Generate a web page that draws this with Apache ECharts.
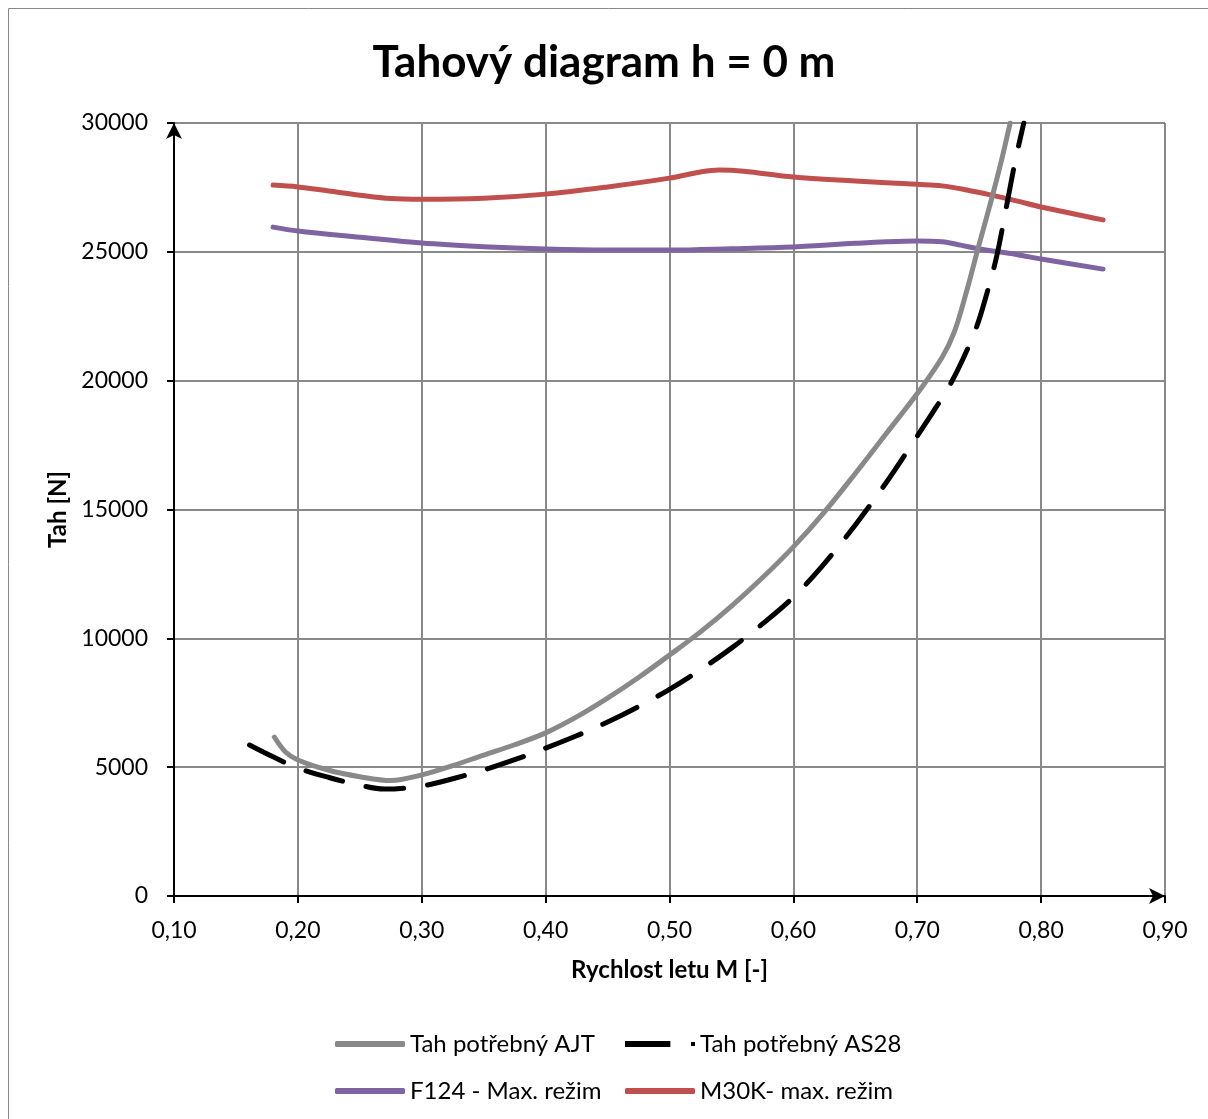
<!DOCTYPE html>
<html>
<head>
<meta charset="utf-8">
<title>Tahový diagram</title>
<script src="https://cdn.jsdelivr.net/npm/echarts@6/dist/echarts.min.js"></script>
<style>
  html, body { margin: 0; padding: 0; background: #fff; }
  #chart { width: 1208px; height: 1119px; }
</style>
</head>
<body>
<div id="chart"></div>
<script>
// Tah potřebný AJT
const ajtM = [0.181, 0.19, 0.20, 0.225, 0.25, 0.275, 0.30, 0.325, 0.35, 0.375, 0.40, 0.425, 0.45, 0.475, 0.50, 0.525, 0.55, 0.575, 0.60, 0.625, 0.65, 0.675, 0.70, 0.72, 0.73, 0.74, 0.75, 0.76, 0.768, 0.775]
const ajtT = [6170, 5590, 5280, 4880, 4630, 4480, 4700, 5060, 5470, 5870, 6330, 6950, 7680, 8480, 9350, 10250, 11250, 12350, 13550, 14900, 16400, 17950, 19500, 20900, 21900, 23500, 25300, 27050, 28550, 30000]

// Tah potřebný AS28
const as28M = [0.161, 0.18, 0.20, 0.225, 0.25, 0.27, 0.30, 0.325, 0.35, 0.375, 0.40, 0.425, 0.45, 0.475, 0.50, 0.525, 0.55, 0.575, 0.60, 0.625, 0.65, 0.675, 0.70, 0.715, 0.726, 0.737, 0.748, 0.756, 0.764, 0.772, 0.779, 0.786]
const as28T = [5860, 5400, 4970, 4600, 4300, 4150, 4270, 4550, 4890, 5290, 5740, 6220, 6750, 7350, 8020, 8780, 9620, 10560, 11600, 12900, 14400, 16050, 17850, 18950, 19800, 20850, 22100, 23350, 24800, 26750, 28500, 30000]

// F124 - Max. režim
const f124M = [0.18, 0.20, 0.25, 0.30, 0.35, 0.40, 0.45, 0.50, 0.55, 0.60, 0.65, 0.675, 0.70, 0.72, 0.735, 0.75, 0.78, 0.80, 0.85]
const f124T = [25960, 25810, 25570, 25340, 25200, 25110, 25070, 25070, 25120, 25190, 25330, 25390, 25420, 25390, 25260, 25110, 24900, 24720, 24330]

// M30K- max. režim
const m30kM = [0.18, 0.20, 0.225, 0.25, 0.275, 0.30, 0.35, 0.40, 0.45, 0.50, 0.525, 0.54, 0.56, 0.60, 0.65, 0.70, 0.72, 0.74, 0.76, 0.78, 0.80, 0.85]
const m30kT = [27590, 27520, 27360, 27200, 27070, 27040, 27080, 27240, 27520, 27860, 28100, 28180, 28130, 27900, 27750, 27620, 27560, 27400, 27200, 26980, 26740, 26240]

const xTicks = [0.1, 0.9, 0.1] // min, max, step
const yTicks = [0, 30000, 5000]

const pairs = (xs, ys) => xs.map((x, i) => [x, ys[i]])
const font = 'Lato, "Liberation Sans", sans-serif'

const chart = echarts.init(document.getElementById('chart'), null, { renderer: 'canvas' })

const legendBase = {
  orient: 'horizontal',
  itemWidth: 70,
  itemHeight: 6,
  itemGap: 0,
  icon: 'roundRect',
  textStyle: { fontFamily: font, fontSize: 24, lineHeight: 26, color: '#000' },
  selectedMode: false
}

const options = {
  backgroundColor: '#fff',
  animation: false,
  title: {
    text: 'Tahový diagram h = 0 m',
    left: 'center',
    top: 36,
    textStyle: { fontFamily: font, fontSize: 44, fontWeight: 'bold', color: '#000' }
  },
  graphic: [
    {
      type: 'rect',
      shape: { x: 8.5, y: 8.5, width: 1220, height: 1130 },
      style: { fill: 'none', stroke: '#888', lineWidth: 1 },
      silent: true
    }
  ],
  legend: [
    Object.assign({}, legendBase, { data: ['Tah potřebný AJT'], left: 330, top: 1026 }),
    Object.assign({}, legendBase, {
      data: ['Tah potřebný AS28'],
      left: 620,
      top: 1026,
      icon: 'path://M0,0h46v6h-46z M67,1h4v4h-4z'
    }),
    Object.assign({}, legendBase, { data: ['F124 - Max. režim'], left: 330, top: 1073 }),
    Object.assign({}, legendBase, { data: ['M30K- max. režim'], left: 620, top: 1073 })
  ],
  grid: {
    left: 174,
    right: 43,
    top: 123,
    bottom: 223,
    containLabel: false
  },
  xAxis: {
    type: 'value',
    min: xTicks[0],
    max: xTicks[1],
    interval: xTicks[2],
    name: 'Rychlost letu M [-]',
    nameLocation: 'middle',
    nameGap: 62,
    nameTextStyle: { fontFamily: font, fontSize: 24, fontWeight: 'bold', color: '#000' },
    axisLine: {
      show: true,
      onZero: false,
      symbol: ['none', 'arrow'],
      symbolSize: [12, 16],
      lineStyle: { color: '#000', width: 2 }
    },
    axisTick: { show: true, length: 7, lineStyle: { color: '#000', width: 2 } },
    axisLabel: {
      margin: 23,
      fontFamily: font,
      fontSize: 23,
      color: '#000',
      formatter: (v) => v.toFixed(2).replace('.', ',')
    },
    splitLine: { show: true, lineStyle: { color: '#898989', width: 2 } }
  },
  yAxis: {
    type: 'value',
    min: yTicks[0],
    max: yTicks[1],
    interval: yTicks[2],
    name: 'Tah [N]',
    nameLocation: 'middle',
    nameGap: 102,
    nameTextStyle: { fontFamily: font, fontSize: 24, fontWeight: 'bold', color: '#000' },
    axisLine: {
      show: true,
      onZero: false,
      symbol: ['none', 'arrow'],
      symbolSize: [12, 16],
      lineStyle: { color: '#000', width: 2 }
    },
    axisTick: { show: true, length: 7, lineStyle: { color: '#000', width: 2 } },
    axisLabel: { margin: 26, fontFamily: font, fontSize: 23, color: '#000', formatter: (v) => String(v) },
    splitLine: { show: true, lineStyle: { color: '#898989', width: 2 } }
  },
  series: [
    {
      name: 'Tah potřebný AJT',
      type: 'line',
      z: 4,
      smooth: 0.35,
      symbol: 'none',
      lineStyle: { color: '#898989', width: 5, cap: 'round', join: 'round' },
      itemStyle: { color: '#898989' },
      data: pairs(ajtM, ajtT)
    },
    {
      name: 'Tah potřebný AS28',
      type: 'line',
      z: 5,
      smooth: 0.35,
      symbol: 'none',
      lineStyle: { color: '#000', width: 5, type: [38, 24], cap: 'round', join: 'round' },
      itemStyle: { color: '#000' },
      data: pairs(as28M, as28T)
    },
    {
      name: 'F124 - Max. režim',
      type: 'line',
      z: 3,
      smooth: 0.35,
      symbol: 'none',
      lineStyle: { color: '#8064A2', width: 5, cap: 'round', join: 'round' },
      itemStyle: { color: '#8064A2' },
      data: pairs(f124M, f124T)
    },
    {
      name: 'M30K- max. režim',
      type: 'line',
      z: 3,
      smooth: 0.35,
      symbol: 'none',
      lineStyle: { color: '#C0504D', width: 5, cap: 'round', join: 'round' },
      itemStyle: { color: '#C0504D' },
      data: pairs(m30kM, m30kT)
    }
  ]
}

chart.setOption(options, true)
window.addEventListener('resize', () => chart.resize())
</script>
</body>
</html>
